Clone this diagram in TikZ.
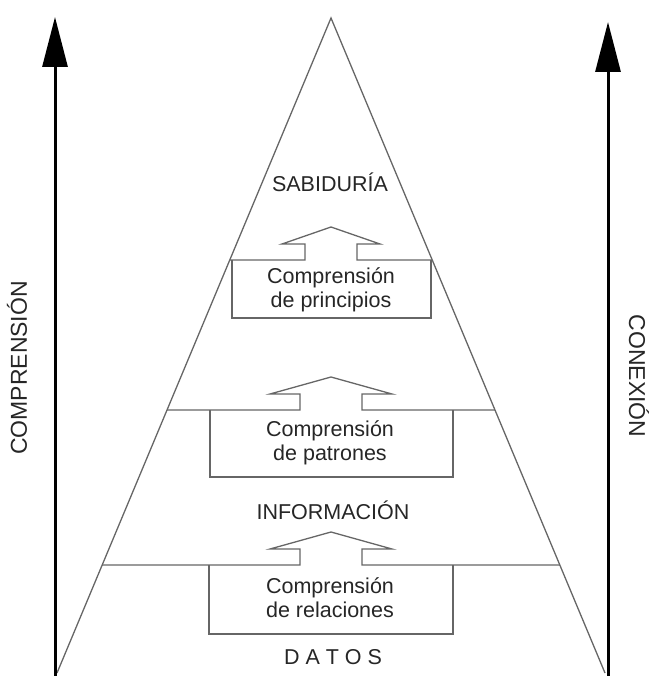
\documentclass[tikz,border=0pt]{standalone}
\usepackage{fontspec}
\setmainfont{Liberation Sans}
\usetikzlibrary{arrows.meta,calc}
\begin{document}
\begin{tikzpicture}[x=1pt,y=-1pt,
  pyr/.style={draw=black!60,line width=1.3pt,line join=miter},
  axisarrow/.style={line width=3pt,-{Triangle[width=25pt,length=50pt]}},
  txt/.style={font=\fontsize{21.5}{24}\selectfont,align=center,inner sep=1pt,text=black!85},
  sidetxt/.style={txt,font=\fontsize{23}{26}\selectfont}]
\useasboundingbox (0,0) rectangle (649,676);
\coordinate (apex) at (331,18);
\coordinate (bl) at (57,673);
\coordinate (br) at (605,673);
\draw[pyr] (bl) -- (apex) -- (br);
\foreach \ly/\bxl/\bxr/\bxb/\sh/\wh in {260/232/431/318/26/49, 410/210/453/477/31/61, 565/209/453/634/31/61}{
  \draw[pyr] ($(apex)!{(\ly-18)/655}!(bl)$) -- (331-\sh,\ly) -- (331-\sh,\ly-16) -- (331-\wh,\ly-16)
    -- (331,\ly-33) -- (331+\wh,\ly-16) -- (331+\sh,\ly-16) -- (331+\sh,\ly) -- ($(apex)!{(\ly-18)/655}!(br)$);
  \draw[pyr] (\bxl,\ly) |- (\bxr,\bxb) -- (\bxr,\ly);
}
\node[txt] (sabiduria) at (330,182) {SABIDURÍA};
\node[txt] (principios) at (331,290) {Comprensión\\de principios};
\node[txt] (patrones) at (330,443) {Comprensión\\de patrones};
\node[txt] (informacion) at (333,510) {INFORMACIÓN};
\node[txt] (relaciones) at (330,598) {Comprensión\\de relaciones};
\node[txt] (datos) at (333,657) {D A T O S};
% side axes
\coordinate (lbot) at (55,676);
\coordinate (ltop) at (55,17);
\coordinate (rbot) at (608,676);
\coordinate (rtop) at (608,22);
\draw[axisarrow] (lbot) -- (ltop);
\draw[axisarrow] (rbot) -- (rtop);
\node[sidetxt,rotate=90] (comprension) at (17,368) {COMPRENSIÓN};
\node[sidetxt,rotate=-90] (conexion) at (639,376) {CONEXIÓN};
\end{tikzpicture}
\end{document}
